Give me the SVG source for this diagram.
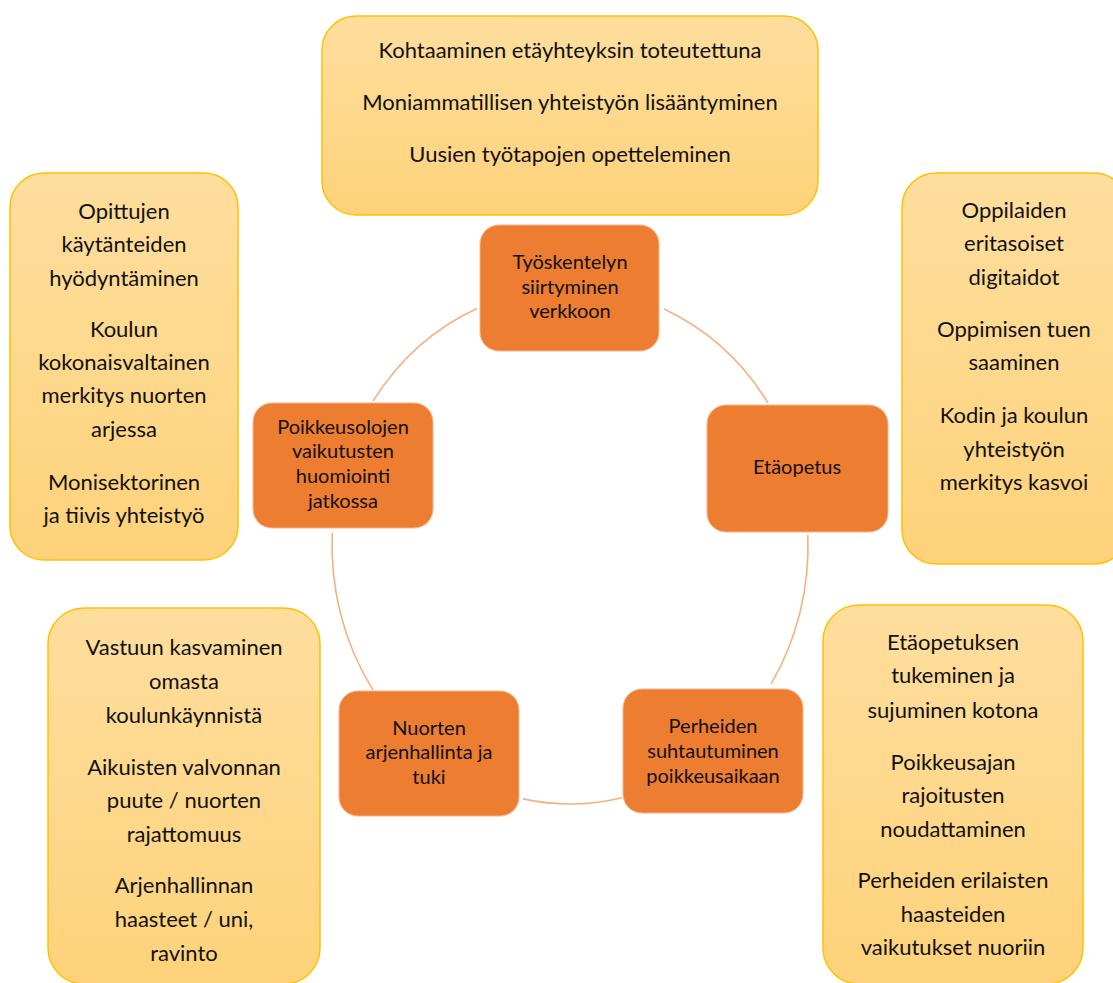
<svg xmlns="http://www.w3.org/2000/svg" width="1113" height="983" viewBox="0 0 1113 983">
<defs>
<linearGradient id="yg" x1="0" y1="0" x2="0" y2="1">
<stop offset="0" stop-color="#FEDE9E"/>
<stop offset="1" stop-color="#FED27A"/>
</linearGradient>
<style>
.box{fill:url(#yg);stroke:#FFC000;stroke-width:1.5}
.node{fill:#ED7D31;stroke:#F7B58A;stroke-width:1}
.arc{fill:none;stroke:#F4B183;stroke-width:1.6}
text{font-family:Lato,"Open Sans","Liberation Sans",sans-serif;fill:#111111;text-anchor:middle}
.bt{font-size:22px}
.nt{font-size:20px}
</style>
</defs>
<rect width="1113" height="983" fill="#ffffff"/>
<g id="connectors">
<path class="arc" d="M477,308.5 A238,258 0 0 0 373,401.2"/>
<path class="arc" d="M664,309 A238,258 0 0 1 768,402.8"/>
<path class="arc" d="M807.8,535 A238,258 0 0 1 771,684.2"/>
<path class="arc" d="M622,797.8 A238,258 0 0 1 523,798.9"/>
<path class="arc" d="M373,690 A238,258 0 0 1 332.3,533"/>
</g>
<g id="box-top">
<rect class="box" x="322" y="16" width="496" height="199" rx="34"/>
<text class="bt" x="570" y="58">Kohtaaminen etäyhteyksin toteutettuna</text>
<text class="bt" x="570" y="110">Moniammatillisen yhteistyön lisääntyminen</text>
<text class="bt" x="570" y="162">Uusien työtapojen opetteleminen</text>
</g>
<g id="box-left">
<rect class="box" x="10" y="173" width="228" height="387" rx="34"/>
<text class="bt" x="124" y="219">Opittujen</text>
<text class="bt" x="124" y="252">käytänteiden</text>
<text class="bt" x="124" y="286">hyödyntäminen</text>
<text class="bt" x="124" y="337">Koulun</text>
<text class="bt" x="124" y="370">kokonaisvaltainen</text>
<text class="bt" x="124" y="403">merkitys nuorten</text>
<text class="bt" x="124" y="437">arjessa</text>
<text class="bt" x="124" y="490">Monisektorinen</text>
<text class="bt" x="124" y="523">ja tiivis yhteistyö</text>
</g>
<g id="box-right">
<rect class="box" x="902" y="173" width="226" height="391" rx="34"/>
<text class="bt" x="1014" y="218">Oppilaiden</text>
<text class="bt" x="1014" y="251">eritasoiset</text>
<text class="bt" x="1014" y="285">digitaidot</text>
<text class="bt" x="1014" y="337">Oppimisen tuen</text>
<text class="bt" x="1014" y="370">saaminen</text>
<text class="bt" x="1014" y="423">Kodin ja koulun</text>
<text class="bt" x="1014" y="457">yhteistyön</text>
<text class="bt" x="1014" y="490">merkitys kasvoi</text>
</g>
<g id="box-bottom-left">
<rect class="box" x="48" y="608" width="272" height="376" rx="36"/>
<text class="bt" x="184" y="655">Vastuun kasvaminen</text>
<text class="bt" x="184" y="689">omasta</text>
<text class="bt" x="184" y="723">koulunkäynnistä</text>
<text class="bt" x="184" y="775">Aikuisten valvonnan</text>
<text class="bt" x="184" y="808">puute / nuorten</text>
<text class="bt" x="184" y="842">rajattomuus</text>
<text class="bt" x="184" y="893">Arjenhallinnan</text>
<text class="bt" x="184" y="927">haasteet / uni,</text>
<text class="bt" x="184" y="961">ravinto</text>
</g>
<g id="box-bottom-right">
<rect class="box" x="823" y="605" width="260" height="379" rx="36"/>
<text class="bt" x="953" y="650">Etäopetuksen</text>
<text class="bt" x="953" y="683">tukeminen ja</text>
<text class="bt" x="953" y="718">sujuminen kotona</text>
<text class="bt" x="953" y="770">Poikkeusajan</text>
<text class="bt" x="953" y="803">rajoitusten</text>
<text class="bt" x="953" y="837">noudattaminen</text>
<text class="bt" x="953" y="888">Perheiden erilaisten</text>
<text class="bt" x="953" y="922">haasteiden</text>
<text class="bt" x="953" y="955">vaikutukset nuoriin</text>
</g>
<g id="node-tyoskentelyn">
<rect class="node" x="480" y="225" width="179" height="126" rx="19"/>
<text class="nt" x="570" y="269">Työskentelyn</text>
<text class="nt" x="570" y="294">siirtyminen</text>
<text class="nt" x="570" y="318">verkkoon</text>
</g>
<g id="node-etaopetus">
<rect class="node" x="707" y="405" width="181" height="127" rx="19"/>
<text class="nt" x="797" y="474">Etäopetus</text>
</g>
<g id="node-perheiden">
<rect class="node" x="623" y="689" width="180" height="124" rx="19"/>
<text class="nt" x="713" y="733">Perheiden</text>
<text class="nt" x="713" y="758">suhtautuminen</text>
<text class="nt" x="713" y="783">poikkeusaikaan</text>
</g>
<g id="node-nuorten">
<rect class="node" x="339" y="691" width="180" height="125" rx="19"/>
<text class="nt" x="429" y="735">Nuorten</text>
<text class="nt" x="429" y="759">arjenhallinta ja</text>
<text class="nt" x="429" y="784">tuki</text>
</g>
<g id="node-poikkeusolojen">
<rect class="node" x="253" y="403" width="180" height="125" rx="19"/>
<text class="nt" x="343" y="434">Poikkeusolojen</text>
<text class="nt" x="343" y="458">vaikutusten</text>
<text class="nt" x="343" y="483">huomiointi</text>
<text class="nt" x="343" y="508">jatkossa</text>
</g>
</svg>
